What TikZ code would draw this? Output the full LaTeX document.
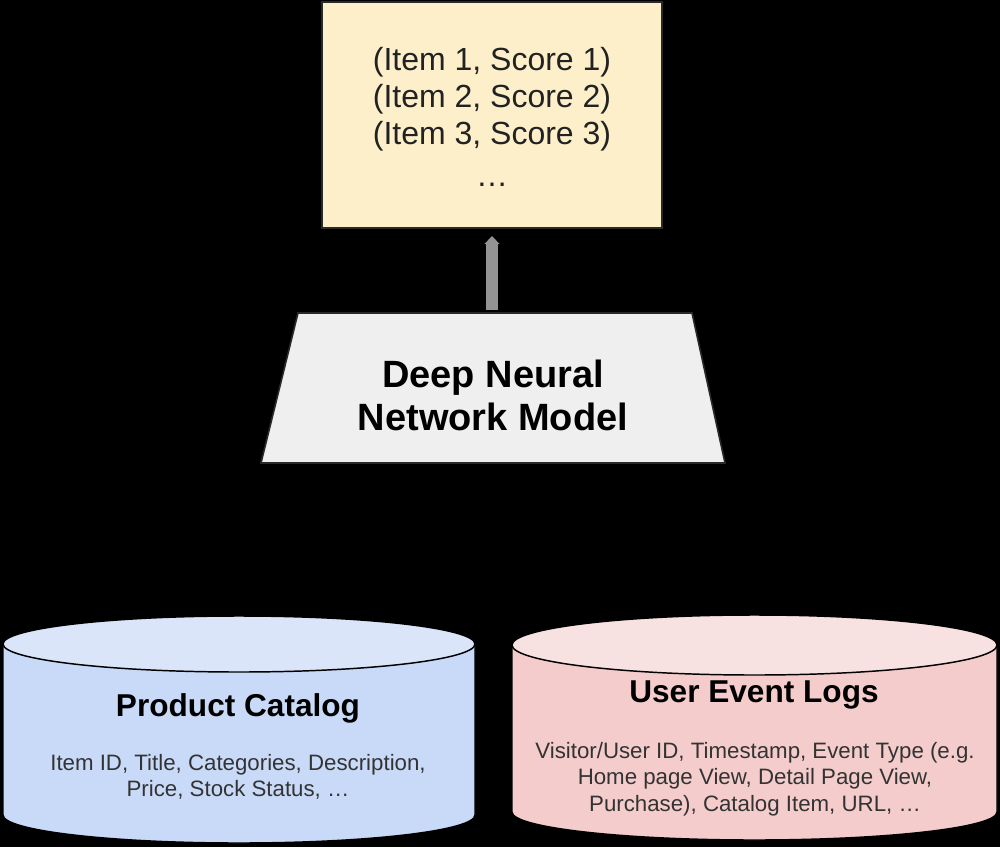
\documentclass[tikz,border=0pt]{standalone}
\usepackage{fontspec}
\setmainfont{Liberation Sans}
\usetikzlibrary{arrows.meta}
\definecolor{outfill}{HTML}{FCEFCA}
\definecolor{dnnfill}{HTML}{EFEFEF}
\definecolor{bluebody}{HTML}{C9DAF8}
\definecolor{bluetop}{HTML}{DAE5FA}
\definecolor{pinkbody}{HTML}{F4CCCC}
\definecolor{pinktop}{HTML}{F8E1E1}
\definecolor{txt}{HTML}{222222}
\definecolor{smalltxt}{HTML}{333333}
\definecolor{edgecol}{HTML}{2A2A2A}
\tikzset{
  outbox/.style={draw=edgecol, line width=1.2pt, fill=outfill, minimum width=255pt, minimum height=169.5pt, inner sep=0pt},
  outtext/.style={text=txt, align=center, font=\fontsize{24}{27.8}\selectfont},
  dnnshape/.style={draw=edgecol, line width=1.2pt, fill=dnnfill},
  dnntext/.style={text=black, align=center, font=\fontsize{28.5}{32.3}\selectfont\bfseries},
  cyltitle/.style={text=black, align=center, font=\fontsize{23.7}{28}\selectfont\bfseries},
  cylsmall/.style={text=smalltxt, align=center, font=\fontsize{16.7}{19.8}\selectfont},
  cylline/.style={draw=black, line width=1.1pt},
  conn/.style={draw=gray!85, line width=9pt, -{Triangle[width=11pt,length=6pt]}}
}
\begin{document}
\begin{tikzpicture}[x=0.75pt,y=-0.75pt]
\useasboundingbox (0,0) rectangle (1000,847);
\fill[black] (0,0) rectangle (1000,847);

% output box
\node[outbox] (out) at (492,115) {};
\node[outtext] (outtxt) at (492,117) {(Item 1, Score 1)\\(Item 2, Score 2)\\(Item 3, Score 3)\\[4pt]…};

% DNN trapezoid
\path[dnnshape] (298,313) -- (692,313) -- (725,463) -- (261,463) -- cycle;
\coordinate (dnntop) at (492,310);
\node[dnntext] (dnn) at (493,395) {Deep Neural\\Network Model};

% connector
\draw[conn] (dnntop) -- (out.south |- 0,236);

% Product catalog cylinder
\path[cylline, fill=bluebody] (3,644) -- (3,815) arc (180:0:236 and 28) -- (475,644) arc (360:180:236 and 28) -- cycle;
\path[cylline, fill=bluetop] (239,644) ellipse (236 and 28);
\node[cyltitle] (pc) at (238,708) {Product Catalog};
\node[cylsmall] (pcd) at (238,777) {Item ID, Title, Categories, Description,\\Price, Stock Status, …};

% User event logs cylinder
\path[cylline, fill=pinkbody] (512,645) -- (512,812) arc (180:0:242.5 and 28) -- (997,645) arc (360:180:242.5 and 30) -- cycle;
\path[cylline, fill=pinktop] (754.5,645) ellipse (242.5 and 30);
\node[cyltitle] (uel) at (754,695) {User Event Logs};
\node[cylsmall] (ueld) at (755,779) {Visitor/User ID, Timestamp, Event Type (e.g.\\Home page View, Detail Page View,\\Purchase), Catalog Item, URL, …};
\end{tikzpicture}
\end{document}
